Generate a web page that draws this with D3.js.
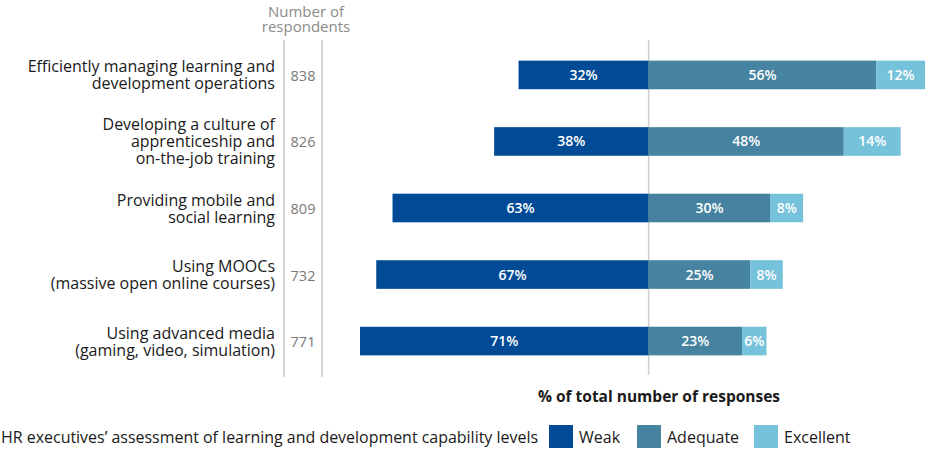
<!DOCTYPE html>
<html><head><meta charset="utf-8">
<script src="https://cdn.jsdelivr.net/npm/d3@7/dist/d3.min.js"></script>
<style>body{margin:0;background:#fff}svg{display:block}text{font-family:"Open Sans","Noto Sans",sans-serif}</style>
</head><body>
<svg id="c" width="933" height="455"></svg>
<script>
const categories = [
  ["Efficiently managing learning and", "development operations"],
  ["Developing a culture of", "apprenticeship and", "on-the-job training"],
  ["Providing mobile and", "social learning"],
  ["Using MOOCs", "(massive open online courses)"],
  ["Using advanced media", "(gaming, video, simulation)"]
];
const respondents = [838, 826, 809, 732, 771];
const weak = [32, 38, 63, 67, 71];
const adequate = [56, 48, 30, 25, 23];
const excellent = [12, 14, 8, 8, 6];
const seriesNames = ["Weak", "Adequate", "Excellent"];
const colors = ["#014b96", "#4583a0", "#76c2da"];

const svg = d3.select("#c");
const x = d3.scaleLinear().domain([-71, 67]).range([360, 921]);
const y = d3.scaleBand().domain(d3.range(categories.length)).range([42, 374]).paddingInner(0.57).paddingOuter(0.28);

// grid lines
svg.append("line").attr("x1", x(0)).attr("x2", x(0)).attr("y1", 40).attr("y2", 375).attr("stroke", "#cfcfcf").attr("stroke-width", 1.5);
[284, 322].forEach(px => svg.append("line").attr("x1", px).attr("x2", px).attr("y1", 40).attr("y2", 377).attr("stroke", "#c8c8c8").attr("stroke-width", 1.5));

// header
svg.append("text").attr("x", 306).attr("y", 17).attr("text-anchor", "middle").attr("fill", "#8a8a8a").attr("font-size", 15).text("Number of");
svg.append("text").attr("x", 306).attr("y", 32).attr("text-anchor", "middle").attr("fill", "#8a8a8a").attr("font-size", 15).text("respondents");

categories.forEach((lines, i) => {
  const cy = y(i) + y.bandwidth() / 2;
  const lh = 17;
  const t = svg.append("text").attr("text-anchor", "end").attr("fill", "#1a1a1a").attr("font-size", 16);
  lines.forEach((l, j) => {
    t.append("tspan").attr("x", 275).attr("y", cy + 6 + (j - (lines.length - 1) / 2) * lh).text(l);
  });
  svg.append("text").attr("x", 303).attr("y", cy + 6).attr("text-anchor", "middle").attr("fill", "#7a7a7a").attr("font-size", 14.5).text(respondents[i]);

  const segs = [
    {v: weak[i], x0: x(-weak[i]), x1: x(0), c: colors[0]},
    {v: adequate[i], x0: x(0), x1: x(adequate[i]), c: colors[1]},
    {v: excellent[i], x0: x(adequate[i]), x1: x(adequate[i] + excellent[i]), c: colors[2]}
  ];
  segs.forEach(s => {
    svg.append("rect").attr("x", s.x0).attr("y", y(i)).attr("width", s.x1 - s.x0).attr("height", y.bandwidth()).attr("fill", s.c);
    svg.append("text").attr("x", (s.x0 + s.x1) / 2).attr("y", cy + 5).attr("text-anchor", "middle")
      .attr("fill", "#fff").attr("font-size", 14).attr("font-weight", 600).text(s.v + "%");
  });
});

// axis title
svg.append("text").attr("x", 659).attr("y", 402).attr("text-anchor", "middle").attr("font-size", 15.5).attr("font-weight", "bold").attr("fill", "#1a1a1a").text("% of total number of responses");

// legend
svg.append("text").attr("x", 1).attr("y", 443).attr("font-size", 16).attr("fill", "#1a1a1a")
  .attr("textLength", 537).attr("lengthAdjust", "spacingAndGlyphs")
  .text("HR executives’ assessment of learning and development capability levels");
const legX = [549, 637, 754];
seriesNames.forEach((n, k) => {
  svg.append("rect").attr("x", legX[k]).attr("y", 425).attr("width", 24).attr("height", 23).attr("fill", colors[k]);
  svg.append("text").attr("x", legX[k] + 30).attr("y", 443).attr("font-size", 16).attr("fill", "#1a1a1a").text(n);
});
</script>
</body></html>
